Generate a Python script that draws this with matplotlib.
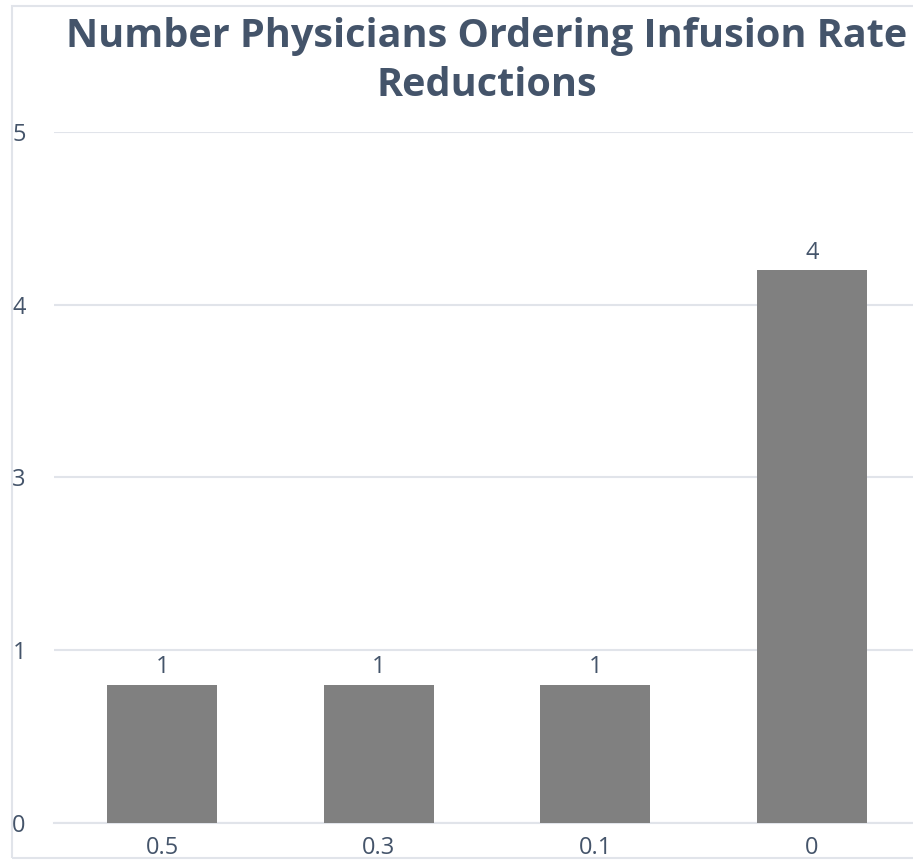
import matplotlib.pyplot as plt
from matplotlib.patches import Rectangle

categories = ["0.5", "0.3", "0.1", "0"]
physicians = [1, 1, 1, 4]
ytick_values = [0, 1.25, 2.5, 3.75, 5]
ytick_labels = ["0", "1", "3", "4", "5"]

text_color = "#44546A"
grid_color = "#E1E4EA"
W, H = 913, 860

plt.rcParams['font.family'] = ['Open Sans', 'DejaVu Sans']

fig = plt.figure(figsize=(W / 100, H / 100), dpi=100)
ax = fig.add_axes([54 / W, (H - 823) / H, (920 - 54) / W, (823 - 132) / H])

# chart area border
fig.patches.append(Rectangle((12 / W, (H - 858) / H), 1.2, (858 - 6) / H,
                             transform=fig.transFigure, fill=False,
                             edgecolor=grid_color, linewidth=1.5))

bars = ax.bar(categories, physicians, width=0.51, color="#808080", zorder=3)
ax.bar_label(bars, padding=4, color=text_color, fontsize=17)

ax.set_xlim(-0.5, 3.5)
ax.set_ylim(0, 5)
ax.set_yticks(ytick_values)
ax.set_yticklabels(ytick_labels, ha='left')
ax.yaxis.grid(True, color=grid_color, linewidth=1.5, zorder=0)
ax.tick_params(axis='y', length=0, pad=30, labelsize=17, labelcolor=text_color)
ax.tick_params(axis='x', length=0, pad=9, labelsize=17, labelcolor=text_color)
for s in ["top", "right", "left"]:
    ax.spines[s].set_visible(False)
ax.spines["bottom"].set_color(grid_color)
ax.spines["bottom"].set_linewidth(1.5)

fig.text(487 / W, 1 - 61 / H, "Number Physicians Ordering Infusion Rate\nReductions",
         ha='center', va='center', fontsize=28.5, fontweight='bold',
         color=text_color, linespacing=1.35)

fig.savefig("out.png", dpi=100)
